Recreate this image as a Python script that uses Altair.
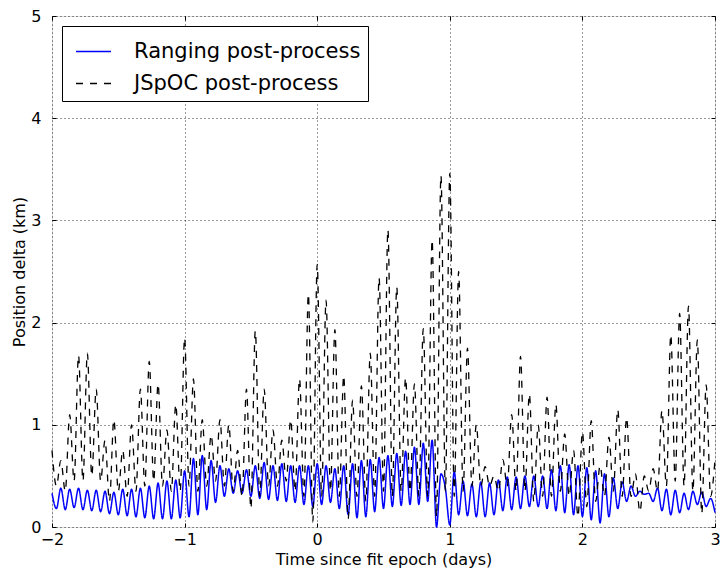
import altair as alt
import pandas as pd

# sampling: one value every 1/30 day from -2 to 3
T_START = -2.0
N_SAMPLES = 151
STEP = 1.0 / 30.0

SERIES = ["Ranging post-process", "JSpOC post-process"]

ranging = [
    0.33, 0.18, 0.38, 0.17, 0.37, 0.19, 0.38, 0.17, 0.36, 0.16,
    0.36, 0.15, 0.35, 0.13, 0.34, 0.12, 0.37, 0.11, 0.37, 0.10,
    0.38, 0.09, 0.40, 0.08, 0.43, 0.08, 0.45, 0.08, 0.46, 0.09,
    0.55, 0.10, 0.67, 0.12, 0.70, 0.17, 0.65, 0.24, 0.60, 0.30,
    0.57, 0.33, 0.55, 0.33, 0.56, 0.30, 0.60, 0.28, 0.63, 0.27,
    0.60, 0.26, 0.62, 0.25, 0.60, 0.24, 0.60, 0.22, 0.60, 0.20,
    0.62, 0.22, 0.60, 0.24, 0.57, 0.18, 0.60, 0.12, 0.62, 0.09,
    0.65, 0.10, 0.66, 0.15, 0.68, 0.18, 0.70, 0.20, 0.72, 0.21,
    0.74, 0.22, 0.78, 0.22, 0.82, 0.25, 0.85, 0.00, 0.52, 0.38,
    0.02, 0.54, 0.12, 0.45, 0.11, 0.42, 0.10, 0.44, 0.10, 0.43,
    0.12, 0.46, 0.16, 0.49, 0.17, 0.49, 0.18, 0.50, 0.20, 0.50,
    0.20, 0.50, 0.18, 0.56, 0.16, 0.60, 0.14, 0.61, 0.12, 0.60,
    0.10, 0.58, 0.07, 0.55, 0.04, 0.52, 0.10, 0.48, 0.18, 0.44,
    0.25, 0.40, 0.30, 0.35, 0.32, 0.33, 0.25, 0.38, 0.16, 0.37,
    0.12, 0.36, 0.14, 0.33, 0.17, 0.35, 0.22, 0.34, 0.20, 0.28,
    0.14,
]

# JSpOC: values at the even samples (crests) and odd samples (troughs)
jspoc_crests = [
    0.75, 0.65, 1.10, 1.68, 1.70, 1.35, 0.85, 1.05, 0.75, 1.00,
    1.35, 1.62, 1.40, 0.95, 1.20, 1.85, 1.45, 1.05, 0.90, 1.05,
    1.00, 0.75, 1.35, 1.92, 1.35, 0.95, 0.85, 1.05, 1.45, 2.28,
    2.57, 2.22, 1.93, 1.48, 1.24, 1.38, 1.70, 2.44, 2.91, 2.35,
    1.46, 1.40, 1.94, 2.81, 3.44, 3.46, 2.50, 1.75, 1.00, 0.59,
    0.50, 0.66, 1.10, 1.67, 1.30, 1.00, 1.27, 1.20, 0.91, 0.75,
    0.93, 1.04, 0.60, 0.88, 1.15, 1.07, 0.52, 0.50, 0.57, 1.14,
    1.88, 2.09, 2.16, 1.83, 1.39, 0.66,
]
jspoc_troughs = [
    0.40, 0.35, 0.45, 0.45, 0.50, 0.45, 0.25, 0.35, 0.30, 0.35,
    0.40, 0.45, 0.40, 0.35, 0.35, 0.40, 0.35, 0.40, 0.45, 0.40,
    0.35, 0.30, 0.18, 0.30, 0.40, 0.40, 0.45, 0.35, 0.30, 0.05,
    0.30, 0.35, 0.30, 0.08, 0.30, 0.25, 0.30, 0.35, 0.30, 0.35,
    0.35, 0.30, 0.30, 0.10, 0.35, 0.30, 0.35, 0.40, 0.40, 0.40,
    0.35, 0.40, 0.35, 0.35, 0.25, 0.30, 0.30, 0.35, 0.30, 0.10,
    0.20, 0.25, 0.30, 0.35, 0.30, 0.30, 0.15, 0.35, 0.35, 0.40,
    0.45, 0.40, 0.35, 0.13, 0.30,
]

X_TICKS = [-2, -1, 0, 1, 2, 3]
Y_TICKS = [0, 1, 2, 3, 4, 5]

jspoc = []
for k, c in enumerate(jspoc_crests):
    jspoc.append(c)
    if k < len(jspoc_troughs):
        jspoc.append(jspoc_troughs[k])

times = [round(T_START + i * STEP, 6) for i in range(N_SAMPLES)]

rows = []
for t, v in zip(times, ranging):
    rows.append({"t": t, "v": v, "series": SERIES[0]})
for t, v in zip(times, jspoc):
    rows.append({"t": t, "v": v, "series": SERIES[1]})
df = pd.DataFrame(rows)

FONT = "DejaVu Sans"
minus_expr = "replace(datum.label, '-', '\u2212')"


def make_legend():
    return alt.Legend(
        title=None, orient="top-left", offset=10,
        fillColor="white", strokeColor="black", padding=7,
        symbolType="stroke", symbolSize=1225, symbolStrokeWidth=1.3,
        labelFontSize=21, labelFont=FONT, labelColor="black",
        rowPadding=3, symbolOffset=6, labelOffset=22, labelLimit=400,
    )


color = alt.Color(
    "series:N",
    scale=alt.Scale(domain=SERIES, range=["#0000ff", "#000000"]),
    legend=make_legend(),
)
dash = alt.StrokeDash(
    "series:N",
    scale=alt.Scale(domain=SERIES, range=[[1, 0], [7, 7]]),
    legend=make_legend(),
)

xscale = alt.Scale(domain=[-2, 3], nice=False, zero=False)
yscale = alt.Scale(domain=[0, 5], nice=False, zero=False)

x_bottom = alt.X(
    "t:Q", scale=xscale,
    axis=alt.Axis(
        orient="bottom", values=X_TICKS, grid=True, gridColor="black",
        gridDash=[1, 3], gridWidth=0.8, gridOpacity=1, domain=False,
        tickSize=4, offset=-4, tickColor="black", labelFont=FONT,
        labelFontSize=16, labelColor="black", labelPadding=4,
        labelFlush=False, labelOverlap=False,
        labelExpr=minus_expr, title="Time since fit epoch (days)",
        titleFont=FONT, titleFontSize=16, titleFontWeight="normal",
        titleColor="black", titlePadding=4,
    ),
)
y_left = alt.Y(
    "v:Q", scale=yscale,
    axis=alt.Axis(
        orient="left", values=Y_TICKS, grid=True, gridColor="black",
        gridDash=[1, 3], gridWidth=0.8, gridOpacity=1, domain=False,
        tickSize=4, offset=-4, tickColor="black", labelFont=FONT,
        labelFontSize=16, labelColor="black", labelPadding=11,
        labelFlush=False, labelOverlap=False,
        title="Position delta (km)", titleFont=FONT, titleFontSize=16,
        titleFontWeight="normal", titleColor="black", titlePadding=3,
    ),
)
x_top = alt.X(
    "t:Q", scale=xscale,
    axis=alt.Axis(
        orient="top", values=X_TICKS, grid=False, domain=False,
        labels=False, tickSize=4, offset=-4, tickColor="black", title=None,
    ),
)
y_right = alt.Y(
    "v:Q", scale=yscale,
    axis=alt.Axis(
        orient="right", values=Y_TICKS, grid=False, domain=False,
        labels=False, tickSize=4, offset=-4, tickColor="black", title=None,
    ),
)

blue = alt.Chart(df).transform_filter(
    alt.datum.series == SERIES[0]
).mark_line(interpolate="monotone", strokeWidth=1.5).encode(
    x=x_bottom, y=y_left, color=color, strokeDash=dash
)
black = alt.Chart(df).transform_filter(
    alt.datum.series == SERIES[1]
).mark_line(interpolate="monotone", strokeWidth=1.3).encode(
    x=x_top, y=y_right, color=color, strokeDash=dash
)

chart = alt.layer(blue, black).resolve_axis(
    x="independent", y="independent"
).properties(
    width=663, height=511,
    autosize=alt.AutoSizeParams(type="none"),
    padding={"left": 44, "top": 8, "right": 5, "bottom": 41},
).configure_view(
    stroke="black", strokeWidth=1
).configure(
    background="white", font=FONT
)

chart.save("out.html", embed_options={"renderer": "svg", "actions": False})
